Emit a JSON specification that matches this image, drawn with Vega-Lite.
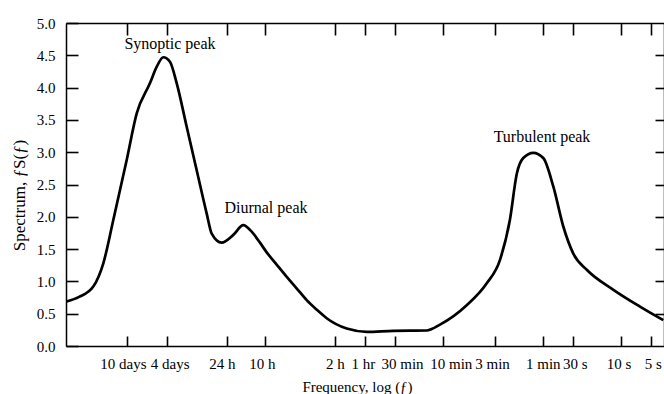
{
  "$schema": "https://vega.github.io/schema/vega-lite/v6.json",
  "autosize": {"type": "none"},
  "padding": {"left": 66, "top": 23, "right": 0, "bottom": 48},
  "width": 598,
  "height": 323,
  "background": "white",
  "config": {
    "view": {"stroke": null},
    "font": "Liberation Serif",
    "axis": {
      "domainColor": "black",
      "domainWidth": 1.5,
      "tickColor": "black",
      "tickWidth": 1.6,
      "tickOpacity": 1,
      "grid": false,
      "labelFont": "Liberation Serif",
      "labelFontSize": 15,
      "labelColor": "black",
      "titleFont": "Liberation Serif",
      "titleFontSize": 15,
      "titleFontWeight": "normal",
      "titleColor": "black"
    }
  },
  "datasets": {
    "curve": [
      {"period_s": 3459000, "spectrum": 0.69},
      {"period_s": 2600000, "spectrum": 0.76},
      {"period_s": 1875000, "spectrum": 0.92},
      {"period_s": 1489000, "spectrum": 1.28},
      {"period_s": 1183000, "spectrum": 1.95},
      {"period_s": 869000, "spectrum": 2.88},
      {"period_s": 690000, "spectrum": 3.60},
      {"period_s": 508000, "spectrum": 4.07},
      {"period_s": 436000, "spectrum": 4.32},
      {"period_s": 374000, "spectrum": 4.47},
      {"period_s": 321000, "spectrum": 4.40},
      {"period_s": 275000, "spectrum": 4.07},
      {"period_s": 218000, "spectrum": 3.39},
      {"period_s": 173400, "spectrum": 2.72},
      {"period_s": 137700, "spectrum": 2.05},
      {"period_s": 122700, "spectrum": 1.74},
      {"period_s": 97500, "spectrum": 1.60},
      {"period_s": 74600, "spectrum": 1.72},
      {"period_s": 59300, "spectrum": 1.87},
      {"period_s": 48900, "spectrum": 1.77},
      {"period_s": 40400, "spectrum": 1.60},
      {"period_s": 34600, "spectrum": 1.45},
      {"period_s": 27500, "spectrum": 1.26},
      {"period_s": 21800, "spectrum": 1.07},
      {"period_s": 17300, "spectrum": 0.89},
      {"period_s": 13770, "spectrum": 0.71},
      {"period_s": 10900, "spectrum": 0.56},
      {"period_s": 8690, "spectrum": 0.43},
      {"period_s": 5480, "spectrum": 0.27},
      {"period_s": 3460, "spectrum": 0.22},
      {"period_s": 1875, "spectrum": 0.235},
      {"period_s": 869, "spectrum": 0.24},
      {"period_s": 640, "spectrum": 0.33},
      {"period_s": 346, "spectrum": 0.63},
      {"period_s": 218, "spectrum": 0.97},
      {"period_s": 161, "spectrum": 1.33},
      {"period_s": 128, "spectrum": 1.95},
      {"period_s": 109, "spectrum": 2.67},
      {"period_s": 94, "spectrum": 2.91},
      {"period_s": 74.6, "spectrum": 2.99},
      {"period_s": 59.3, "spectrum": 2.91},
      {"period_s": 47.1, "spectrum": 2.47},
      {"period_s": 37.4, "spectrum": 1.85},
      {"period_s": 29.7, "spectrum": 1.43},
      {"period_s": 21.8, "spectrum": 1.18},
      {"period_s": 11.8, "spectrum": 0.87},
      {"period_s": 6.4, "spectrum": 0.61},
      {"period_s": 3.74, "spectrum": 0.40}
    ],
    "labels": [
      {"period_s": 321000, "spectrum": 4.60, "text": "Synoptic peak"},
      {"period_s": 35200, "spectrum": 2.06, "text": "Diurnal peak"},
      {"period_s": 61.1, "spectrum": 3.16, "text": "Turbulent peak"}
    ]
  },
  "layer": [
    {
      "data": {"name": "curve"},
      "mark": {"type": "line", "color": "black", "strokeWidth": 2.7, "interpolate": "monotone"},
      "encoding": {
        "x": {
          "field": "period_s",
          "type": "quantitative",
          "scale": {"type": "log", "domain": [3.68, 3516000], "reverse": true, "nice": false, "zero": false},
          "axis": {
            "orient": "bottom",
            "values": [864000, 345600, 86400, 36000, 7200, 3600, 1800, 600, 180, 60, 30, 10, 5],
            "labelExpr": "datum.value == 864000 ? '10 days' : datum.value == 345600 ? '4 days' : datum.value == 86400 ? '24 h' : datum.value == 36000 ? '10 h' : datum.value == 7200 ? '2 h' : datum.value == 3600 ? '1 hr' : datum.value == 1800 ? '30 min' : datum.value == 600 ? '10 min' : datum.value == 180 ? '3 min' : datum.value == 60 ? '1 min' : datum.value == 30 ? '30 s' : datum.value == 10 ? '10 s' : '5 s'",
            "labelOffset": {
              "condition": [
                {"test": "datum.value == 864000", "value": -4},
                {"test": "datum.value == 345600", "value": 3},
                {"test": "datum.value == 86400", "value": -5},
                {"test": "datum.value == 36000", "value": -3},
                {"test": "datum.value == 3600", "value": -2},
                {"test": "datum.value == 1800", "value": 7},
                {"test": "datum.value == 600", "value": 8},
                {"test": "datum.value == 180", "value": -3},
                {"test": "datum.value == 30", "value": 2},
                {"test": "datum.value == 10", "value": -2},
                {"test": "datum.value == 5", "value": 2}
              ],
              "value": 0
            },
            "ticks": true,
            "tickSize": -10,
            "labelPadding": 20,
            "labelFlush": false,
            "labelOverlap": false,
            "title": "Frequency, log (ƒ)",
            "titlePadding": 8,
            "titleX": 291
          }
        },
        "y": {
          "field": "spectrum",
          "type": "quantitative",
          "scale": {"domain": [0, 5], "nice": false},
          "axis": {
            "orient": "left",
            "values": [0, 0.5, 1, 1.5, 2, 2.5, 3, 3.5, 4, 4.5, 5],
            "format": ".1f",
            "ticks": true,
            "tickSize": -12,
            "labelPadding": 23,
            "labelFlush": false,
            "title": "Spectrum, ƒS(ƒ)",
            "titleFontSize": 17,
            "titlePadding": 8,
            "titleY": 172
          }
        }
      }
    },
    {
      "data": {"name": "labels"},
      "mark": {"type": "text", "font": "Liberation Serif", "fontSize": 16, "color": "black", "baseline": "alphabetic", "align": "center"},
      "encoding": {
        "x": {
          "field": "period_s",
          "type": "quantitative",
          "axis": {
            "orient": "top",
            "values": [864000, 345600, 86400, 36000, 7200, 3600, 1800, 600, 180, 60, 30, 10, 5],
            "labels": false,
            "ticks": true,
            "tickSize": -12,
            "title": null
          }
        },
        "y": {
          "field": "spectrum",
          "type": "quantitative",
          "axis": {
            "orient": "right",
            "values": [0.5, 1, 1.5, 2, 2.5, 3, 3.5, 4, 4.5],
            "labels": false,
            "ticks": true,
            "tickSize": -9,
            "title": null
          }
        },
        "text": {"field": "text"}
      }
    }
  ],
  "resolve": {"axis": {"x": "independent", "y": "independent"}}
}
